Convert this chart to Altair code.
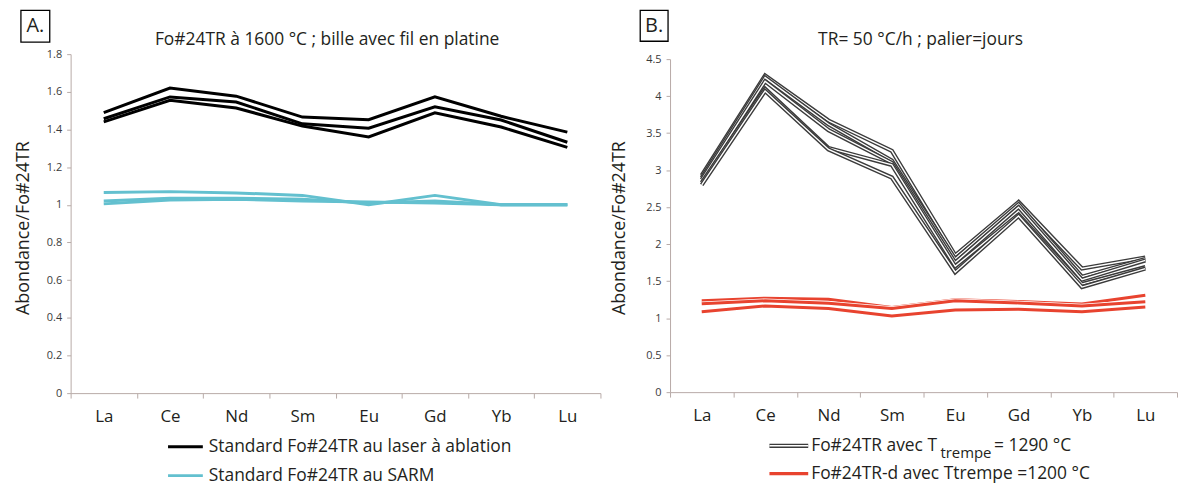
import altair as alt
import pandas as pd

FONT = "Open Sans"
AXIS_COLOR = "#b7aaa7"
TEXT_COLOR = "#231f20"

elements = ["La", "Ce", "Nd", "Sm", "Eu", "Gd", "Yb", "Lu"]

# Panel A : Fo#24TR a 1600 C
a_laser_1 = [1.49, 1.62, 1.577, 1.466, 1.452, 1.573, 1.47, 1.386]
a_laser_2 = [1.457, 1.573, 1.546, 1.43, 1.407, 1.52, 1.45, 1.332]
a_laser_3 = [1.44, 1.555, 1.514, 1.418, 1.36, 1.488, 1.413, 1.305]
a_sarm_1 = [1.065, 1.07, 1.063, 1.05, 1.0, 1.05, 1.0, 1.0]
a_sarm_2 = [1.02, 1.035, 1.035, 1.03, 1.01, 1.02, 1.0, 1.0]
a_sarm_3 = [1.005, 1.025, 1.03, 1.02, 1.015, 1.01, 1.0, 1.0]

# Panel B : TR = 50 C/h
b_1290_1 = [2.93, 4.28, 3.67, 3.26, 1.85, 2.57, 1.67, 1.82]
b_1290_2 = [2.9, 4.25, 3.62, 3.13, 1.8, 2.54, 1.56, 1.8]
b_1290_3 = [2.87, 4.2, 3.54, 3.1, 1.75, 2.5, 1.52, 1.78]
b_1290_4 = [2.83, 4.1, 3.3, 3.07, 1.7, 2.4, 1.46, 1.69]
b_1290_5 = [2.8, 4.07, 3.28, 2.9, 1.62, 2.38, 1.42, 1.67]
b_1200_1 = [1.235, 1.27, 1.255, 1.145, 1.25, 1.225, 1.19, 1.31]
b_1200_2 = [1.195, 1.235, 1.2, 1.13, 1.235, 1.205, 1.165, 1.22]
b_1200_3 = [1.085, 1.165, 1.13, 1.03, 1.11, 1.12, 1.085, 1.15]

a_ticks = [0, 0.2, 0.4, 0.6, 0.8, 1.0, 1.2, 1.4, 1.6, 1.8]
b_ticks = [0, 0.5, 1, 1.5, 2, 2.5, 3, 3.5, 4, 4.5]

title_a = "Fo#24TR à 1600 °C ; bille avec fil en platine"
title_b = "TR= 50 °C/h ; palier=jours"
y_title = "Abondance/Fo#24TR"
leg_a1 = "Standard Fo#24TR au laser à ablation"
leg_a2 = "Standard Fo#24TR au SARM"
leg_b1_pre, leg_b1_sub, leg_b1_post = "Fo#24TR avec T", "trempe", " = 1290 °C"
leg_b2 = "Fo#24TR-d avec Ttrempe =1200 °C"


def to_long(series):
    rows = []
    for name, vals in series.items():
        for e, v in zip(elements, vals):
            rows.append({"elem": e, "value": v, "series": name})
    return pd.DataFrame(rows)


one = pd.DataFrame({"k": [0]})


def xenc():
    return alt.X(
        "elem:N", sort=elements, bandPosition=0.5,
        scale=alt.Scale(type="band", paddingInner=0, paddingOuter=0),
        axis=alt.Axis(title=None, tickBand="extent", labelAngle=0, labelFontSize=17,
                      labelColor=TEXT_COLOR, labelPadding=11, tickSize=5,
                      tickColor=AXIS_COLOR, domainColor=AXIS_COLOR, labelFont=FONT,
                      labelBaseline="top"),
    )


def yenc(dom, rng, ticks, fmt):
    return alt.Y(
        "value:Q", scale=alt.Scale(domain=dom, range=rng, nice=False, zero=True),
        axis=alt.Axis(title=None, values=ticks, format=fmt, grid=False, tickSize=4,
                      tickColor=AXIS_COLOR, domainColor=AXIS_COLOR, labelFontSize=11,
                      labelColor="#3a3a3a", labelPadding=5, labelFont=FONT),
    )


def text(s, x, y, size=17.5, align="left", angle=0, baseline="middle"):
    return alt.Chart(one).mark_text(
        align=align, baseline=baseline, fontSize=size, font=FONT, color=TEXT_COLOR, angle=angle
    ).encode(x=alt.value(x), y=alt.value(y), text=alt.value(s))


def rule(x1, x2, y, color, w):
    return alt.Chart(one).mark_rule(color=color, strokeWidth=w).encode(
        x=alt.value(x1), x2=alt.value(x2), y=alt.value(y))


def box(label, x1, x2, y1, y2):
    r = alt.Chart(one).mark_rect(fill="white", stroke="black", strokeWidth=1.3).encode(
        x=alt.value(x1), x2=alt.value(x2), y=alt.value(y1), y2=alt.value(y2))
    t = text(label, (x1 + x2) / 2, (y1 + y2) / 2, size=20, align="center")
    return [r, t]


# ---------- Panel A ----------
WA, HA = 533, 341
ya = yenc([0, 1.8], [HA, 0], a_ticks, ".1~f")
df_laser = to_long({"l1": a_laser_1, "l2": a_laser_2, "l3": a_laser_3})
df_sarm = to_long({"s1": a_sarm_1, "s2": a_sarm_2, "s3": a_sarm_3})

laser = alt.Chart(df_laser).mark_line(color="black", strokeWidth=3).encode(
    x=xenc(), y=ya, detail="series:N")
sarm = alt.Chart(df_sarm).mark_line(color="#63c0cf", strokeWidth=3).encode(
    x=xenc(), y=ya, detail="series:N")

panel_a = alt.layer(
    laser, sarm,
    *box("A.", -50, -21, -44, -12),
    text(title_a, 258, -14, align="center"),
    text(y_title, -47, 175, size=18, align="center", angle=270),
    rule(98, 133, 395, "black", 3),
    text(leg_a1, 139, 395),
    rule(98, 133, 424, "#63c0cf", 3),
    text(leg_a2, 139, 424),
).properties(width=WA, height=HA)

# ---------- Panel B ----------
WB, HB = 510, 340
yb = yenc([0, 4.5], [HB, 5], b_ticks, ".1~f")
layers_b = []
for i, vals in enumerate([b_1290_1, b_1290_2, b_1290_3, b_1290_4, b_1290_5]):
    d = to_long({f"g{i}": vals})
    layers_b.append(alt.Chart(d).mark_line(color="#3b3b3b", strokeWidth=4.2).encode(x=xenc(), y=yb))
    layers_b.append(alt.Chart(d).mark_line(color="white", strokeWidth=1.4).encode(x=xenc(), y=yb))
for i, vals in enumerate([b_1200_1, b_1200_2, b_1200_3]):
    d = to_long({f"r{i}": vals})
    layers_b.append(alt.Chart(d).mark_line(color="white", strokeWidth=4.6).encode(x=xenc(), y=yb))
    layers_b.append(alt.Chart(d).mark_line(color="#e8432f", strokeWidth=3).encode(x=xenc(), y=yb))

panel_b = alt.layer(
    *layers_b,
    *box("B.", -30, -2, -44, -13),
    text(title_b, 252, -14, align="center"),
    text(y_title, -50, 175, size=18, align="center", angle=270),
    rule(100, 139, 394, "#3b3b3b", 4.2),
    rule(100, 139, 394, "white", 1.4),
    text(leg_b1_pre, 142, 394),
    text(leg_b1_sub, 272, 401, size=15),
    text(leg_b1_post, 326, 394),
    rule(100, 139, 422, "#e8432f", 3.4),
    text(leg_b2, 142, 422),
).properties(width=WB, height=HB)

chart = alt.hconcat(panel_a, panel_b, spacing=10).properties(
    padding={"left": 7, "top": 0, "right": 0, "bottom": 0}
).configure_view(stroke=None)

chart.save("out.html", embed_options={"renderer": "svg", "actions": False})
